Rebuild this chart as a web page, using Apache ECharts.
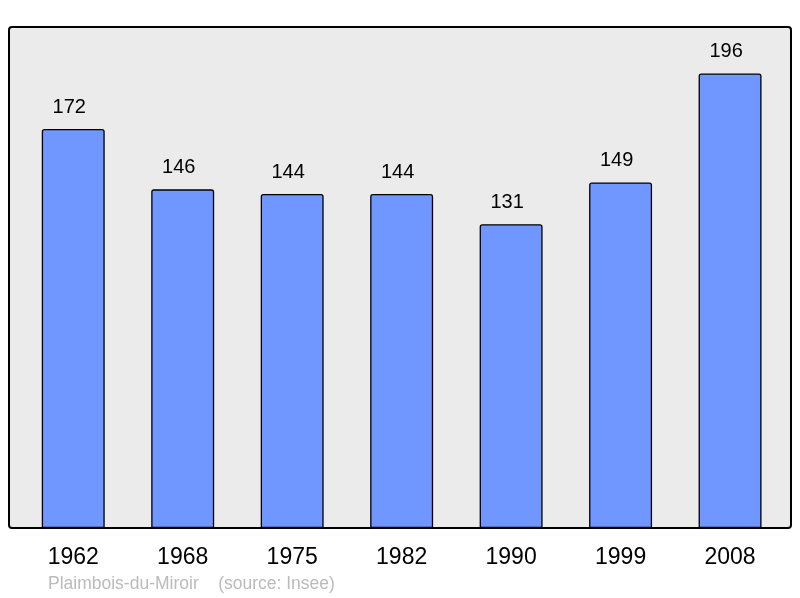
<!DOCTYPE html>
<html><head><meta charset="utf-8">
<script src="https://cdn.jsdelivr.net/npm/echarts@6/dist/echarts.min.js"></script>
<style>html,body{margin:0;padding:0;background:#fff}#c{width:800px;height:598px}</style>
</head><body><div id="c"></div>
<script>
const years = ['1962','1968','1975','1982','1990','1999','2008'];
const population = [172,146,144,144,131,149,196];
const sourceText = 'Plaimbois-du-Miroir    (source: Insee)';

const chart = echarts.init(document.getElementById('c'), null, {renderer:'canvas'});
chart.setOption({
  animation:false,
  textStyle:{fontFamily:'Liberation Sans, Arial, sans-serif'},
  graphic:[
    {type:'rect', z:0, shape:{x:9,y:27,width:782,height:501,r:3}, style:{fill:'#ebebeb',stroke:'none'}},
    {type:'rect', z:100, shape:{x:9,y:27,width:782,height:501,r:3}, style:{fill:'none',stroke:'#000',lineWidth:2}},
    {type:'text', left:48, top:575, style:{text:sourceText, fill:'#bbbbbb', font:'17.5px Liberation Sans, Arial, sans-serif'}}
  ],
  grid:{left:18.5, width:766.3, top:27, bottom:70, containLabel:false},
  xAxis:{type:'category', data:years, axisLine:{show:false}, axisTick:{show:false},
    axisLabel:{fontSize:23, color:'#000', margin:18, fontFamily:'Liberation Sans, Arial, sans-serif'}},
  yAxis:{type:'value', min:0, max:216, show:false, splitLine:{show:false}},
  series:[{type:'bar', data:population, barWidth:'57.5%', z:5,
    itemStyle:{color:'#7096ff', borderColor:'#000', borderWidth:1.3, borderRadius:[2,2,0,0]},
    label:{show:true, position:'top', distance:12, offset:[-4,0], fontSize:20, color:'#000', fontFamily:'Liberation Sans, Arial, sans-serif'}
  }]
});
</script></body></html>
